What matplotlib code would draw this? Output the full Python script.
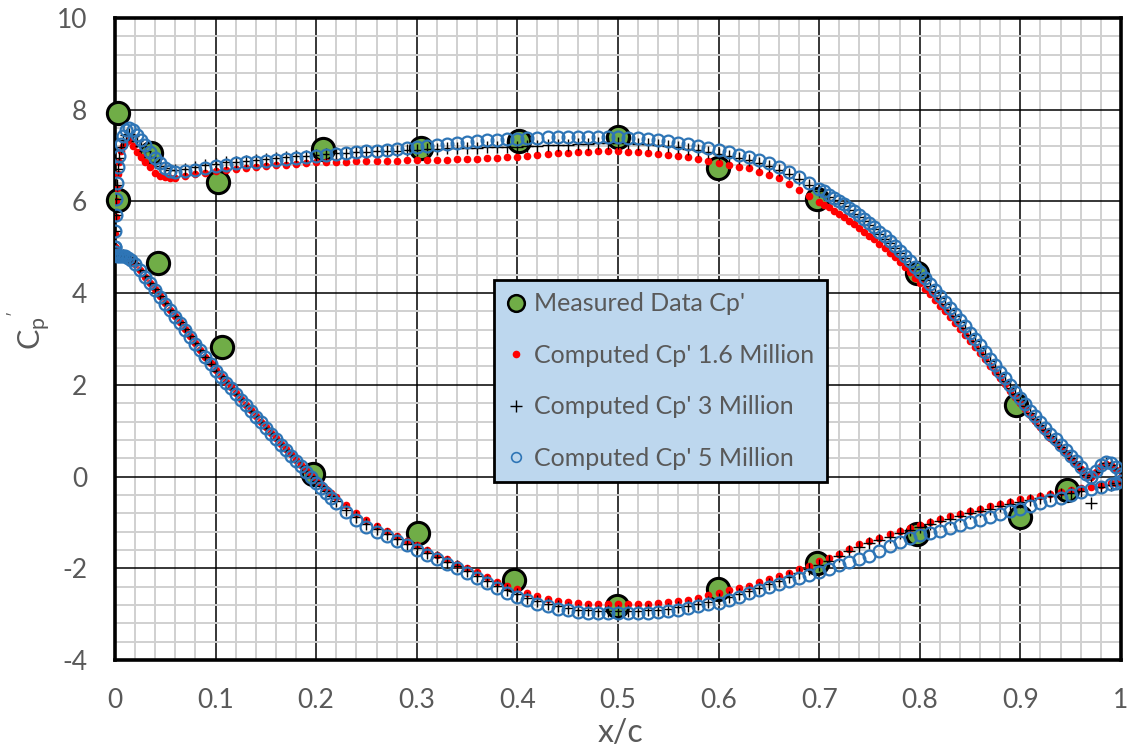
"""Pressure coefficient Cp' over x/c: measured data vs computed at three Reynolds numbers."""

import matplotlib
matplotlib.use("Agg")
import matplotlib.pyplot as plt
from matplotlib.lines import Line2D
from matplotlib.ticker import MultipleLocator

plt.rcParams["font.family"] = ["Lato", "DejaVu Sans"]
plt.rcParams["mathtext.fontset"] = "custom"
plt.rcParams["mathtext.rm"] = "Lato"
plt.rcParams["axes.unicode_minus"] = False

GREY = "#595959"
GREEN = "#70AD47"
RED = "#FF0000"
BLUE = "#2E75B6"

# measured points (upper and lower surface mixed)
MEAS_X = [0.003, 0.003, 0.036, 0.043, 0.102, 0.106, 0.207, 0.197, 0.304, 0.301,
          0.402, 0.397, 0.5, 0.499, 0.599, 0.599, 0.698, 0.698, 0.797, 0.797,
          0.896, 0.9, 0.946]
MEAS_CP = [7.93, 6.03, 7.06, 4.66, 6.42, 2.83, 7.14, 0.06, 7.16, -1.23,
           7.32, -2.26, 7.40, -2.82, 6.73, -2.45, 6.05, -1.88, 4.44, -1.25,
           1.56, -0.88, -0.29]

# computed, upper surface
X_UPPER = [0.0, 0.0005, 0.001, 0.0015, 0.002, 0.003, 0.004, 0.006, 0.008, 0.011,
           0.014, 0.018, 0.022, 0.026, 0.03, 0.035, 0.04, 0.045, 0.05, 0.055,
           0.06, 0.07, 0.08, 0.09, 0.10, 0.11, 0.12, 0.13, 0.14, 0.15,
           0.16, 0.17, 0.18, 0.19, 0.20, 0.21, 0.22, 0.23, 0.24, 0.25,
           0.26, 0.27, 0.28, 0.29, 0.30, 0.31, 0.32, 0.33, 0.34, 0.35,
           0.36, 0.37, 0.38, 0.39, 0.40, 0.41, 0.42, 0.43, 0.44, 0.45,
           0.46, 0.47, 0.48, 0.49, 0.50, 0.51, 0.52, 0.53, 0.54, 0.55,
           0.56, 0.57, 0.58, 0.59, 0.60, 0.61, 0.62, 0.63, 0.64, 0.65,
           0.66, 0.67, 0.68, 0.69, 0.70, 0.71, 0.72, 0.73, 0.74, 0.75,
           0.76, 0.77, 0.78, 0.79, 0.80, 0.81, 0.82, 0.83, 0.84, 0.85,
           0.86, 0.87, 0.88, 0.89, 0.90, 0.91, 0.92, 0.93, 0.94, 0.95,
           0.96, 0.965, 0.97, 0.975, 0.98, 0.985, 0.99, 0.995, 1.0]
CP16_UPPER = [5.0, 5.3, 5.65, 6.0, 6.3, 6.6, 6.85, 7.1, 7.2, 7.3,
              7.33, 7.2, 7.08, 6.97, 6.87, 6.74, 6.63, 6.56, 6.53, 6.51,
              6.52, 6.55, 6.59, 6.63, 6.66, 6.69, 6.71, 6.73, 6.75, 6.77,
              6.79, 6.8, 6.82, 6.83, 6.85, 6.86, 6.87, 6.87, 6.88, 6.88,
              6.89, 6.89, 6.89, 6.9, 6.9, 6.9, 6.91, 6.91, 6.92, 6.92,
              6.93, 6.94, 6.95, 6.96, 6.97, 6.99, 7.01, 7.03, 7.05, 7.06,
              7.07, 7.08, 7.09, 7.09, 7.09, 7.08, 7.07, 7.06, 7.04, 7.02,
              6.99, 6.96, 6.92, 6.88, 6.84, 6.8, 6.76, 6.72, 6.65, 6.58,
              6.5, 6.38, 6.24, 6.12, 5.99, 5.87, 5.73, 5.58, 5.42, 5.25,
              5.08, 4.88, 4.67, 4.45, 4.22, 3.98, 3.73, 3.48, 3.22, 2.96,
              2.69, 2.42, 2.14, 1.87, 1.6, 1.34, 1.09, 0.85, 0.62, 0.39,
              0.16, 0.03, -0.02, 0.1, 0.22, 0.28, 0.25, 0.15, 0.0]
CP3_UPPER = [5.0, 5.35, 5.7, 6.05, 6.35, 6.7, 6.95, 7.18, 7.33, 7.45,
             7.48, 7.42, 7.32, 7.2, 7.1, 6.97, 6.86, 6.78, 6.72, 6.69,
             6.68, 6.71, 6.75, 6.79, 6.82, 6.85, 6.87, 6.89, 6.91, 6.93,
             6.95, 6.97, 6.99, 7.0, 7.02, 7.03, 7.05, 7.06, 7.07, 7.08,
             7.09, 7.1, 7.11, 7.12, 7.13, 7.14, 7.15, 7.16, 7.16, 7.17,
             7.17, 7.18, 7.18, 7.19, 7.19, 7.2, 7.21, 7.22, 7.23, 7.24,
             7.25, 7.26, 7.27, 7.27, 7.27, 7.27, 7.26, 7.25, 7.23, 7.21,
             7.18, 7.15, 7.12, 7.08, 7.04, 7.0, 6.95, 6.9, 6.84, 6.77,
             6.69, 6.59, 6.48, 6.36, 6.23, 6.1, 5.96, 5.81, 5.65, 5.48,
             5.29, 5.09, 4.87, 4.64, 4.4, 4.15, 3.89, 3.63, 3.36, 3.09,
             2.81, 2.52, 2.23, 1.94, 1.66, 1.39, 1.13, 0.88, 0.64, 0.41,
             0.17, 0.04, -0.01, 0.11, 0.23, 0.29, 0.26, 0.17, 0.01]
CP5_UPPER = [5.0, 5.35, 5.7, 6.05, 6.4, 6.75, 7.0, 7.25, 7.42, 7.55,
             7.6, 7.55, 7.45, 7.33, 7.22, 7.08, 6.95, 6.83, 6.72, 6.67,
             6.64, 6.66, 6.69, 6.73, 6.77, 6.8, 6.83, 6.85, 6.87, 6.89,
             6.91, 6.93, 6.95, 6.97, 6.99, 7.01, 7.03, 7.05, 7.07, 7.09,
             7.11, 7.13, 7.15, 7.17, 7.19, 7.21, 7.23, 7.25, 7.27, 7.29,
             7.31, 7.33, 7.35, 7.36, 7.37, 7.38, 7.39, 7.4, 7.4, 7.41,
             7.41, 7.41, 7.41, 7.4, 7.4, 7.39, 7.38, 7.36, 7.34, 7.31,
             7.28, 7.25, 7.21, 7.17, 7.12, 7.07, 7.02, 6.96, 6.9, 6.83,
             6.74, 6.64, 6.53, 6.41, 6.28, 6.15, 6.01, 5.86, 5.7, 5.53,
             5.34, 5.14, 4.92, 4.69, 4.45, 4.2, 3.94, 3.68, 3.41, 3.14,
             2.86, 2.57, 2.28, 1.99, 1.71, 1.44, 1.18, 0.93, 0.69, 0.45,
             0.2, 0.05, 0.0, 0.12, 0.25, 0.32, 0.3, 0.2, 0.05]

# extra grid points on the steep aft part of the upper surface
X_UPPER_AFT = [0.705, 0.715, 0.725, 0.735, 0.745, 0.755, 0.765, 0.775, 0.785,
               0.795, 0.805, 0.815, 0.825, 0.835, 0.845, 0.855, 0.865, 0.875,
               0.885, 0.895, 0.905, 0.915, 0.925, 0.935, 0.945, 0.955]
CP16_UPPER_AFT = [5.93, 5.8, 5.66, 5.5, 5.34, 5.17, 4.98, 4.78, 4.56,
                  4.34, 4.1, 3.86, 3.61, 3.35, 3.09, 2.83, 2.56, 2.28,
                  2.01, 1.74, 1.47, 1.22, 0.97, 0.74, 0.51, 0.28]
CP3_UPPER_AFT = [6.17, 6.03, 5.89, 5.73, 5.57, 5.39, 5.19, 4.98, 4.76,
                 4.52, 4.28, 4.02, 3.76, 3.5, 3.23, 2.95, 2.67, 2.38,
                 2.09, 1.8, 1.53, 1.26, 1.01, 0.76, 0.53, 0.29]
CP5_UPPER_AFT = [6.22, 6.08, 5.94, 5.78, 5.62, 5.44, 5.24, 5.03, 4.81,
                 4.57, 4.33, 4.07, 3.81, 3.55, 3.28, 3.0, 2.72, 2.43,
                 2.14, 1.85, 1.58, 1.31, 1.06, 0.81, 0.57, 0.33]

# computed, lower surface
X_LOWER = [0.0, 0.0005, 0.001, 0.002, 0.004, 0.006, 0.008, 0.01, 0.013, 0.016,
           0.02, 0.025, 0.03, 0.035, 0.04, 0.045, 0.05, 0.055, 0.06, 0.07,
           0.08, 0.09, 0.10, 0.11, 0.12, 0.13, 0.14, 0.15, 0.16, 0.17,
           0.18, 0.19, 0.20, 0.21, 0.22, 0.23, 0.24, 0.25, 0.26, 0.27,
           0.28, 0.29, 0.30, 0.31, 0.32, 0.33, 0.34, 0.35, 0.36, 0.37,
           0.38, 0.39, 0.40, 0.41, 0.42, 0.43, 0.44, 0.45, 0.46, 0.47,
           0.48, 0.49, 0.50, 0.51, 0.52, 0.53, 0.54, 0.55, 0.56, 0.57,
           0.58, 0.59, 0.60, 0.61, 0.62, 0.63, 0.64, 0.65, 0.66, 0.67,
           0.68, 0.69, 0.70, 0.71, 0.72, 0.73, 0.74, 0.75, 0.76, 0.77,
           0.78, 0.79, 0.80, 0.81, 0.82, 0.83, 0.84, 0.85, 0.86, 0.87,
           0.88, 0.89, 0.90, 0.91, 0.92, 0.93, 0.94, 0.95, 0.96, 0.97,
           0.98, 0.99, 0.995, 1.0]
CP16_LOWER = [5.0, 4.88, 4.82, 4.78, 4.78, 4.8, 4.82, 4.8, 4.76, 4.71,
              4.63, 4.5, 4.36, 4.22, 4.08, 3.93, 3.78, 3.64, 3.5, 3.21,
              2.91, 2.61, 2.32, 2.07, 1.82, 1.57, 1.32, 1.08, 0.84, 0.6,
              0.37, 0.14, -0.07, -0.27, -0.45, -0.62, -0.79, -0.94, -1.07, -1.18,
              -1.29, -1.4, -1.5, -1.6, -1.7, -1.8, -1.9, -1.99, -2.09, -2.19,
              -2.29, -2.38, -2.46, -2.54, -2.6, -2.66, -2.71, -2.74, -2.76, -2.77,
              -2.78, -2.78, -2.78, -2.78, -2.78, -2.77, -2.76, -2.74, -2.72, -2.69,
              -2.65, -2.59, -2.53, -2.48, -2.43, -2.38, -2.31, -2.24, -2.17, -2.1,
              -2.02, -1.94, -1.85, -1.77, -1.68, -1.58, -1.48, -1.4, -1.33, -1.26,
              -1.19, -1.12, -1.05, -0.99, -0.93, -0.87, -0.81, -0.75, -0.7, -0.65,
              -0.6, -0.55, -0.5, -0.46, -0.42, -0.38, -0.34, -0.3, -0.26, -0.22,
              -0.18, -0.15, -0.13, -0.12]
CP3_LOWER = [5.0, 4.9, 4.84, 4.8, 4.8, 4.81, 4.83, 4.82, 4.78, 4.73,
             4.65, 4.51, 4.37, 4.22, 4.08, 3.93, 3.78, 3.64, 3.5, 3.21,
             2.91, 2.61, 2.31, 2.06, 1.81, 1.56, 1.31, 1.06, 0.82, 0.58,
             0.35, 0.12, -0.1, -0.32, -0.53, -0.72, -0.89, -1.03, -1.15, -1.26,
             -1.36, -1.46, -1.56, -1.66, -1.76, -1.86, -1.96, -2.06, -2.17, -2.28,
             -2.38, -2.48, -2.57, -2.65, -2.72, -2.78, -2.83, -2.87, -2.9, -2.92,
             -2.93, -2.93, -2.93, -2.93, -2.93, -2.92, -2.9, -2.88, -2.85, -2.82,
             -2.78, -2.73, -2.68, -2.62, -2.56, -2.49, -2.42, -2.35, -2.27, -2.19,
             -2.1, -2.02, -1.93, -1.84, -1.74, -1.63, -1.53, -1.45, -1.38, -1.31,
             -1.24, -1.17, -1.1, -1.04, -0.98, -0.92, -0.86, -0.8, -0.75, -0.7,
             -0.65, -0.6, -0.55, -0.51, -0.47, -0.43, -0.39, -0.35, -0.31, -0.58,
             -0.22, -0.18, -0.15, -0.13]
CP5_LOWER = [5.0, 4.9, 4.84, 4.8, 4.8, 4.81, 4.82, 4.81, 4.77, 4.72,
             4.64, 4.5, 4.36, 4.21, 4.07, 3.92, 3.77, 3.63, 3.49, 3.2,
             2.9, 2.6, 2.3, 2.05, 1.8, 1.55, 1.3, 1.05, 0.81, 0.57,
             0.33, 0.1, -0.13, -0.36, -0.58, -0.78, -0.95, -1.09, -1.2, -1.3,
             -1.4, -1.5, -1.6, -1.7, -1.8, -1.9, -2.0, -2.1, -2.21, -2.32,
             -2.43, -2.53, -2.62, -2.7, -2.77, -2.83, -2.88, -2.92, -2.95, -2.97,
             -2.98, -2.98, -2.98, -2.98, -2.98, -2.97, -2.95, -2.93, -2.9, -2.87,
             -2.83, -2.79, -2.75, -2.69, -2.62, -2.55, -2.48, -2.41, -2.34, -2.28,
             -2.22, -2.15, -2.08, -2.01, -1.93, -1.86, -1.8, -1.74, -1.62, -1.52,
             -1.43, -1.35, -1.28, -1.24, -1.18, -1.12, -1.06, -1.0, -0.94, -0.88,
             -0.82, -0.76, -0.7, -0.64, -0.58, -0.52, -0.46, -0.4, -0.34, -0.28,
             -0.22, -0.17, -0.14, -0.1]

# extra grid points on the steep front part of the lower surface
X_LOWER_FWD = [0.065, 0.075, 0.085, 0.095, 0.105, 0.115, 0.125, 0.135,
               0.145, 0.155, 0.165, 0.175, 0.185, 0.195, 0.205, 0.215]
CP16_LOWER_FWD = [3.36, 3.06, 2.76, 2.47, 2.2, 1.95, 1.7, 1.45,
                  1.2, 0.96, 0.72, 0.49, 0.26, 0.04, -0.17, -0.36]
CP3_LOWER_FWD = [3.36, 3.06, 2.76, 2.46, 2.19, 1.94, 1.69, 1.44,
                 1.19, 0.94, 0.7, 0.47, 0.24, 0.01, -0.21, -0.43]
CP5_LOWER_FWD = [3.35, 3.05, 2.75, 2.45, 2.18, 1.93, 1.68, 1.43,
                 1.18, 0.93, 0.69, 0.45, 0.22, -0.02, -0.25, -0.47]

LABELS = ["Measured Data Cp'", "Computed Cp' 1.6 Million",
          "Computed Cp' 3 Million", "Computed Cp' 5 Million"]


fig = plt.figure(figsize=(11.27, 7.46), dpi=100)
ax = fig.add_axes([0.102, 0.1153, 0.8926, 0.8606])

ax.plot(MEAS_X, MEAS_CP, "o", ms=16, mfc=GREEN, mec="black", mew=2.2,
        clip_on=False, zorder=3)

red_x = X_UPPER + X_UPPER_AFT + X_LOWER + X_LOWER_FWD
red_y = CP16_UPPER + CP16_UPPER_AFT + CP16_LOWER + CP16_LOWER_FWD
ax.plot(red_x, red_y, "o", ms=5.5, mfc=RED, mec="none", ls="none", zorder=4)

blk_x = X_UPPER + X_UPPER_AFT + X_LOWER + X_LOWER_FWD
blk_y = CP3_UPPER + CP3_UPPER_AFT + CP3_LOWER + CP3_LOWER_FWD
ax.plot(blk_x, blk_y, "+", ms=8, mec="black", mew=1.0, ls="none", zorder=5)

blu_x = X_UPPER + X_UPPER_AFT + X_LOWER + X_LOWER_FWD
blu_y = CP5_UPPER + CP5_UPPER_AFT + CP5_LOWER + CP5_LOWER_FWD
ax.plot(blu_x, blu_y, "o", ms=8.5, mfc="none", mec=BLUE, mew=1.6, ls="none",
        zorder=6)

ax.set_xlim(0, 1)
ax.set_ylim(-4, 10)
ax.xaxis.set_major_locator(MultipleLocator(0.1))
ax.xaxis.set_minor_locator(MultipleLocator(0.02))
ax.yaxis.set_major_locator(MultipleLocator(2))
ax.yaxis.set_minor_locator(MultipleLocator(0.4))
ax.set_xticklabels([f"{v:g}" for v in ax.get_xticks()])
ax.grid(which="minor", color="#D0D0D0", lw=1.4)
ax.grid(which="major", color="black", lw=1.1)
ax.set_axisbelow(True)
ax.tick_params(which="both", length=0, pad=20, labelsize=19, labelcolor=GREY)
for sp in ax.spines.values():
    sp.set_linewidth(2.6)
    sp.set_color("black")

fig.text(620 / 1127, 1 - 733 / 746, "x/c", ha="center", va="center",
         fontsize=23, color=GREY)
fig.text(30 / 1127, 1 - 330 / 746, r"C$_\mathregular{p}$$^\mathregular{'}$",
         ha="center", va="center", rotation=90, fontsize=22, color=GREY)

handles = [
    Line2D([], [], ls="none", marker="o", ms=12, mfc=GREEN, mec="black", mew=1.8),
    Line2D([], [], ls="none", marker="o", ms=5.5, mfc=RED, mec="none"),
    Line2D([], [], ls="none", marker="+", ms=9, mec="black", mew=1.0),
    Line2D([], [], ls="none", marker="o", ms=7, mfc="none", mec=BLUE, mew=1.2),
]
leg = ax.legend(handles, LABELS, loc="upper left", bbox_to_anchor=(0.377, 0.592),
                fontsize=18, labelcolor=GREY, frameon=True, fancybox=False,
                facecolor="#BDD7EE", edgecolor="black", framealpha=1,
                handlelength=0.75, handletextpad=0.35, labelspacing=1.14,
                borderpad=0.5, borderaxespad=0)
leg.get_frame().set_linewidth(2)
leg.set_zorder(10)

fig.savefig("out.png", dpi=100)
